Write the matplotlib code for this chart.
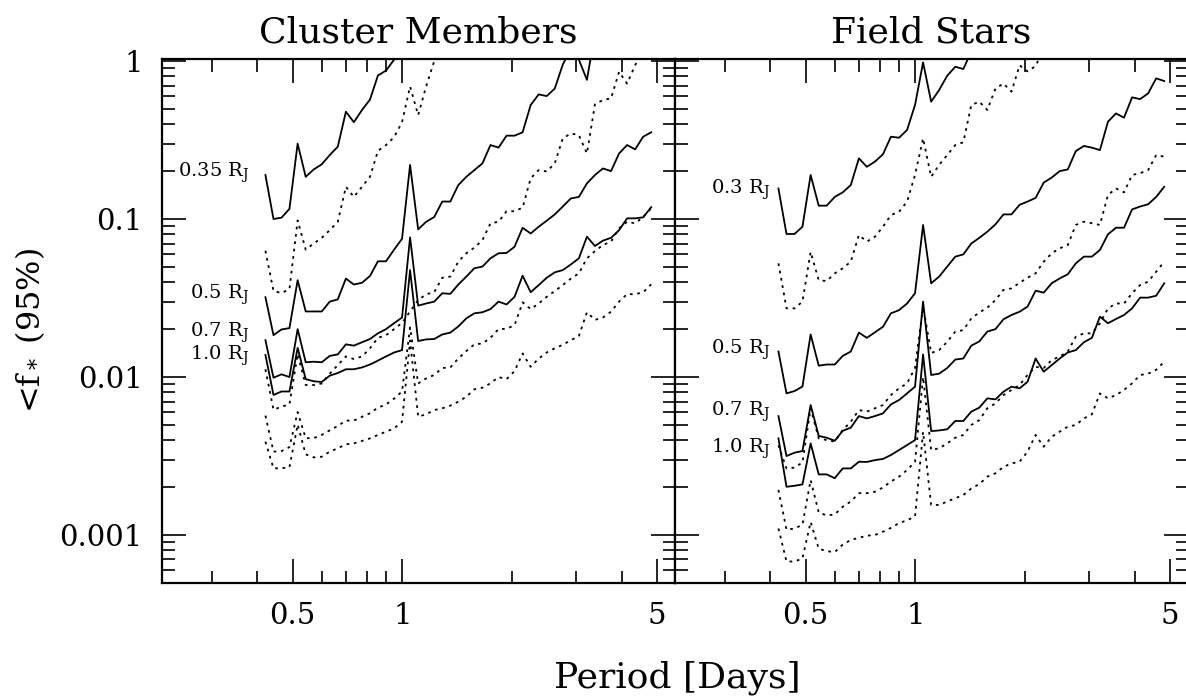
import matplotlib.pyplot as plt
from matplotlib.ticker import FixedLocator, LogLocator, NullFormatter

plt.rcParams['font.family'] = ['DejaVu Serif']
plt.rcParams['mathtext.fontset'] = 'dejavuserif'

# orbital periods [days], same grid for every curve
periods = [0.421, 0.443, 0.466, 0.490, 0.516, 0.543, 0.571, 0.601, 0.632, 0.665,
           0.700, 0.736, 0.775, 0.815, 0.857, 0.902, 0.949, 0.998, 1.050, 1.105,
           1.162, 1.223, 1.287, 1.354, 1.424, 1.498, 1.576, 1.659, 1.745, 1.836,
           1.932, 2.032, 2.138, 2.250, 2.367, 2.490, 2.620, 2.756, 2.900, 3.051,
           3.210, 3.377, 3.553, 3.738, 3.933, 4.138, 4.353, 4.580, 4.819]

# ---- cluster members ----
cl_035_solid = [0.19, 0.10, 0.102, 0.116, 0.30, 0.185, 0.206, 0.222, 0.254, 0.287,
                0.478, 0.41, 0.49, 0.57, 0.81, 0.87, 1.02, 1.3]
cl_035_dot = [0.063, 0.035, 0.034, 0.036, 0.098, 0.064, 0.070, 0.076, 0.085, 0.096,
              0.16, 0.138, 0.16, 0.185, 0.27, 0.294, 0.33, 0.41, 0.69, 0.455,
              0.69, 1.0, 1.3]
cl_05_solid = [0.032, 0.0184, 0.020, 0.0204, 0.041, 0.026, 0.026, 0.026, 0.030, 0.031,
               0.042, 0.0385, 0.0395, 0.0436, 0.054, 0.054, 0.064, 0.075, 0.22, 0.086,
               0.096, 0.103, 0.129, 0.129, 0.164, 0.185, 0.204, 0.225, 0.294, 0.283,
               0.337, 0.337, 0.354, 0.527, 0.615, 0.60, 0.67, 0.95, 1.2, 1.02,
               0.76, 1.5]
cl_05_dot = [0.0112, 0.0062, 0.0065, 0.0067, 0.0140, 0.0089, 0.0089, 0.0091, 0.0105, 0.0119,
             0.0135, 0.0130, 0.0135, 0.0152, 0.0177, 0.0184, 0.0201, 0.0220, 0.026, 0.0307,
             0.0334, 0.0344, 0.0425, 0.0432, 0.0537, 0.0607, 0.0659, 0.0736, 0.094, 0.096,
             0.112, 0.112, 0.118, 0.181, 0.204, 0.200, 0.225, 0.324, 0.348, 0.340,
             0.260, 0.532, 0.567, 0.580, 0.855, 0.720, 0.940, 1.2]
cl_07_solid = [0.0171, 0.0099, 0.0104, 0.0100, 0.0201, 0.0124, 0.0125, 0.0124, 0.0136, 0.0139,
               0.0161, 0.0158, 0.0166, 0.0174, 0.0189, 0.0201, 0.0219, 0.0238, 0.0766, 0.0283,
               0.0292, 0.0300, 0.0339, 0.0336, 0.0385, 0.0432, 0.0488, 0.0500, 0.0564, 0.0607,
               0.0610, 0.0668, 0.0880, 0.0810, 0.0894, 0.0976, 0.107, 0.120, 0.135, 0.138,
               0.168, 0.190, 0.209, 0.201, 0.260, 0.294, 0.276, 0.332, 0.354]
cl_07_dot = [0.0057, 0.00337, 0.0034, 0.0036, 0.0060, 0.0041, 0.0041, 0.0043, 0.0046, 0.0049,
             0.0053, 0.0053, 0.0056, 0.0059, 0.0064, 0.0067, 0.0073, 0.0081, 0.0206, 0.0091,
             0.0098, 0.0103, 0.0114, 0.0115, 0.0131, 0.0146, 0.0161, 0.0163, 0.0177, 0.0201,
             0.0202, 0.0213, 0.0297, 0.0269, 0.0292, 0.0322, 0.0350, 0.0382, 0.0420, 0.0453,
             0.0564, 0.0627, 0.0685, 0.0720, 0.0873, 0.096, 0.094, 0.103, 0.117]
cl_10_solid = [0.0138, 0.0077, 0.0081, 0.0081, 0.0153, 0.0097, 0.0094, 0.0093, 0.0102, 0.0106,
               0.0112, 0.0112, 0.0115, 0.0120, 0.0127, 0.0135, 0.0143, 0.0148, 0.0475, 0.0169,
               0.0173, 0.0174, 0.0186, 0.0191, 0.0209, 0.0235, 0.0253, 0.0257, 0.0269, 0.0300,
               0.0288, 0.0322, 0.0438, 0.0344, 0.0382, 0.0425, 0.0460, 0.0475, 0.0516, 0.0564,
               0.0773, 0.0675, 0.0730, 0.0760, 0.085, 0.101, 0.101, 0.1025, 0.119]
cl_10_dot = [0.0039, 0.00264, 0.00265, 0.00268, 0.0050, 0.00324, 0.0031, 0.00313, 0.00337, 0.00354,
             0.00375, 0.0038, 0.00394, 0.00409, 0.0043, 0.00451, 0.00473, 0.00521, 0.017, 0.00561,
             0.00581, 0.00618, 0.00634, 0.00659, 0.00698, 0.0075, 0.00836, 0.00856, 0.00912, 0.0100,
             0.0097, 0.0109, 0.0141, 0.0116, 0.0131, 0.0143, 0.0152, 0.0160, 0.0171, 0.0182,
             0.0257, 0.0230, 0.0238, 0.0259, 0.0300, 0.0335, 0.0334, 0.0344, 0.0386]

# ---- field stars ----
fs_03_solid = [0.156, 0.0804, 0.0804, 0.0894, 0.19, 0.1215, 0.1215, 0.138, 0.1475, 0.164,
               0.242, 0.214, 0.231, 0.257, 0.332, 0.327, 0.366, 0.527, 0.98, 0.553,
               0.655, 0.807, 0.92, 0.89, 1.15]
fs_03_dot = [0.0524, 0.0272, 0.0272, 0.030, 0.062, 0.041, 0.0405, 0.0453, 0.0488, 0.0537,
             0.0792, 0.072, 0.0773, 0.0894, 0.106, 0.111, 0.129, 0.19, 0.324, 0.185,
             0.22, 0.254, 0.294, 0.306, 0.527, 0.553, 0.49, 0.67, 0.72, 0.64,
             0.94, 0.86, 0.93, 1.2]
fs_05_solid = [0.0145, 0.00788, 0.00815, 0.0087, 0.0186, 0.0118, 0.012, 0.012, 0.0136, 0.0145,
               0.0191, 0.0177, 0.0192, 0.0208, 0.0253, 0.0265, 0.0292, 0.0339, 0.0917, 0.0392,
               0.0432, 0.050, 0.0578, 0.0597, 0.070, 0.076, 0.0832, 0.0925, 0.107, 0.107,
               0.123, 0.129, 0.136, 0.17, 0.183, 0.201, 0.206, 0.269, 0.29, 0.283,
               0.273, 0.413, 0.466, 0.438, 0.589, 0.574, 0.624, 0.777, 0.747]
fs_05_dot = [0.0037, 0.00264, 0.00267, 0.00288, 0.00634, 0.00409, 0.00399, 0.0039, 0.00462, 0.00521,
             0.00618, 0.00604, 0.00634, 0.00665, 0.00769, 0.00848, 0.00912, 0.0114, 0.028, 0.0142,
             0.0148, 0.0167, 0.0194, 0.0198, 0.0235, 0.0256, 0.0275, 0.0307, 0.0356, 0.0364,
             0.0395, 0.0425, 0.0453, 0.0537, 0.0607, 0.0652, 0.0685, 0.0917, 0.0962, 0.094,
             0.0917, 0.142, 0.156, 0.1475, 0.19, 0.195, 0.204, 0.254, 0.248]
fs_07_solid = [0.00566, 0.00316, 0.00332, 0.0034, 0.00665, 0.00424, 0.00413, 0.00395, 0.00457, 0.00478,
               0.00566, 0.00547, 0.00566, 0.00589, 0.00671, 0.00715, 0.00788, 0.00869, 0.030, 0.0103,
               0.0105, 0.0114, 0.0129, 0.0131, 0.0158, 0.0168, 0.0194, 0.0201, 0.0232, 0.0247,
               0.0259, 0.0279, 0.0352, 0.0342, 0.0392, 0.0421, 0.0447, 0.0524, 0.0578, 0.0578,
               0.0637, 0.080, 0.0881, 0.0881, 0.115, 0.12, 0.124, 0.138, 0.16]
fs_07_dot = [0.00193, 0.00108, 0.0011, 0.00116, 0.00223, 0.00139, 0.00133, 0.00135, 0.00151, 0.00163,
             0.00184, 0.00184, 0.00188, 0.0020, 0.00218, 0.00234, 0.00258, 0.00291, 0.010, 0.00345,
             0.00354, 0.0038, 0.00413, 0.0043, 0.00497, 0.00534, 0.00634, 0.00681, 0.00769, 0.00828,
             0.0089, 0.0103, 0.0116, 0.0114, 0.0128, 0.0135, 0.0145, 0.018, 0.0189, 0.0189,
             0.0219, 0.0272, 0.0292, 0.0292, 0.0339, 0.0382, 0.0401, 0.0464, 0.0537]
fs_10_solid = [0.00409, 0.00202, 0.00205, 0.00209, 0.0038, 0.00242, 0.00242, 0.00229, 0.00264, 0.00264,
               0.00291, 0.0029, 0.00298, 0.00303, 0.00321, 0.00345, 0.00371, 0.00399, 0.0139, 0.00455,
               0.00459, 0.00467, 0.00527, 0.00527, 0.00604, 0.0064, 0.00733, 0.00722, 0.00807, 0.00869,
               0.00848, 0.00933, 0.0131, 0.0108, 0.0119, 0.0131, 0.0143, 0.0148, 0.0166, 0.0177,
               0.0241, 0.0219, 0.0233, 0.0247, 0.0272, 0.0318, 0.0318, 0.0327, 0.0392]
fs_10_dot = [0.0011, 0.00068, 0.00068, 0.00071, 0.00121, 0.00082, 0.00079, 0.00078, 0.00087, 0.00093,
             0.00096, 0.00099, 0.0010, 0.00105, 0.00111, 0.00119, 0.00124, 0.00131, 0.0045, 0.00155,
             0.00155, 0.00163, 0.00171, 0.00179, 0.00197, 0.0021, 0.00234, 0.00246, 0.0027, 0.00284,
             0.00291, 0.00337, 0.0043, 0.00362, 0.00419, 0.00451, 0.00485, 0.00497, 0.00547, 0.00581,
             0.00788, 0.00733, 0.00769, 0.00828, 0.00912, 0.0103, 0.0105, 0.0111, 0.0125]

cl_labels = ["0.35 R$_\\mathrm{J}$", "0.5 R$_\\mathrm{J}$", "0.7 R$_\\mathrm{J}$", "1.0 R$_\\mathrm{J}$"]
fs_labels = ["0.3 R$_\\mathrm{J}$", "0.5 R$_\\mathrm{J}$", "0.7 R$_\\mathrm{J}$", "1.0 R$_\\mathrm{J}$"]
# small vertical nudges of the labels relative to the curve starts
cl_shift = [1.03, 1.03, 1.12, 0.98]
fs_shift = [0.98, 1.02, 1.06, 0.86]

solid = dict(color='black', lw=1.3)
dotted = dict(color='black', lw=1.3, linestyle=(0, (1.5, 2.6)))

fig = plt.figure(figsize=(11.86, 6.97), dpi=100)
ax1 = fig.add_axes([162/1186, 114/697, 513/1186, 524/697])
ax2 = fig.add_axes([675/1186, 114/697, 513/1186, 524/697])


def draw(ax, solids, dots, labels, shifts, xlab):
    for vals in solids:
        ax.plot(periods[:len(vals)], vals, **solid)
    for vals in dots:
        ax.plot(periods[:len(vals)], vals, **dotted)
    for vals, lab, s in zip(solids, labels, shifts):
        ax.text(xlab, vals[0] * s, lab, ha='right', va='center', fontsize=14)


draw(ax1, [cl_035_solid, cl_05_solid, cl_07_solid, cl_10_solid],
     [cl_035_dot, cl_05_dot, cl_07_dot, cl_10_dot], cl_labels, cl_shift, 0.38)
draw(ax2, [fs_03_solid, fs_05_solid, fs_07_solid, fs_10_solid],
     [fs_03_dot, fs_05_dot, fs_07_dot, fs_10_dot], fs_labels, fs_shift, 0.40)

for ax in (ax1, ax2):
    ax.set_xscale('log')
    ax.set_yscale('log')
    ax.set_xlim(0.219, 5.6)
    ax.set_ylim(4.97e-4, 1.03)
    ax.xaxis.set_major_locator(FixedLocator([0.5, 1, 5]))
    ax.xaxis.set_minor_locator(FixedLocator([0.3, 0.4, 0.6, 0.7, 0.8, 0.9, 2, 3, 4]))
    ax.xaxis.set_minor_formatter(NullFormatter())
    ax.set_xticklabels(["0.5", "1", "5"])
    ax.yaxis.set_major_locator(FixedLocator([0.001, 0.01, 0.1, 1]))
    ax.yaxis.set_minor_locator(LogLocator(base=10, subs=range(2, 10)))
    ax.yaxis.set_minor_formatter(NullFormatter())
    ax.set_yticklabels(["0.001", "0.01", "0.1", "1"])
    ax.tick_params(which='both', direction='in', top=True, right=True, width=1.2, labelsize=21)
    ax.tick_params(which='major', length=17)
    ax.tick_params(which='minor', length=9)
    ax.tick_params(axis='x', pad=14)
    ax.tick_params(axis='y', pad=14)
    for sp in ax.spines.values():
        sp.set_linewidth(1.6)

ax2.tick_params(labelleft=False)

ax1.set_title("Cluster Members", fontsize=26, pad=12)
ax2.set_title("Field Stars", fontsize=26, pad=12)

fig.text(677/1186, 1 - 678/697, "Period [Days]", ha='center', va='center', fontsize=26)
fig.text(30/1186, 1 - 330/697, "<f$_*$ (95%)", ha='center', va='center', rotation=90, fontsize=23)

fig.savefig("out.png", dpi=100)
